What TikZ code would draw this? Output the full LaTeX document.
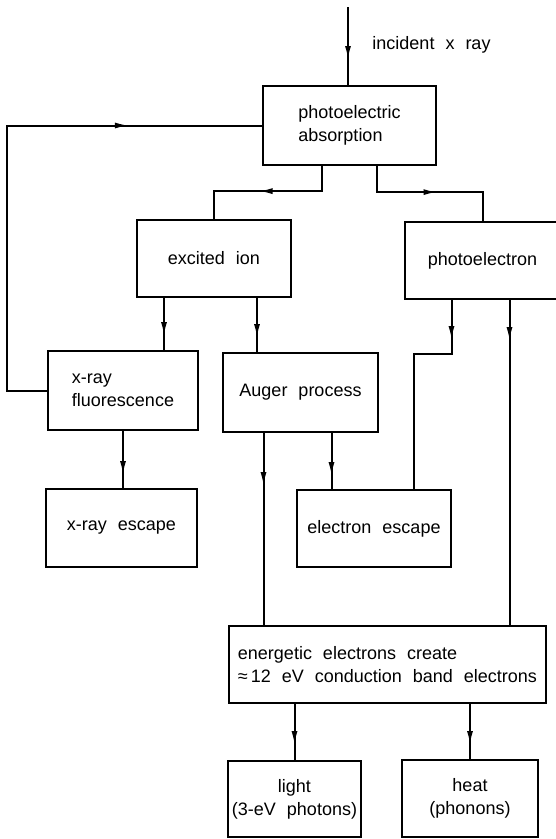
\documentclass[tikz,border=0pt]{standalone}
\usepackage{fontspec}
\setmainfont{Liberation Sans}[WordSpace=2.2]
\usetikzlibrary{arrows.meta,decorations.markings}

\begin{document}
\begin{tikzpicture}[
box/.style={rectangle, draw=black, line width=2.2pt, inner sep=0pt, font=\fontsize{18}{23}\selectfont},
flow/.style={line width=2pt, color=black},
midarrow/.style={postaction={decorate}, decoration={markings, mark=at position #1 with {\arrow{Latex[length=14pt,width=6pt]}}}}
]
\useasboundingbox (0pt,0pt) rectangle (556pt,-839pt);
\node (absorp) [box, minimum width=173pt, minimum height=79pt, align=left] at (349.5pt, -125.5pt) {photoelectric\\absorption};
\node (ion) [box, minimum width=154pt, minimum height=77pt] at (214pt, -258.5pt) {excited ion};
\node (photoel) [box, minimum width=155pt, minimum height=77pt] at (482.5pt, -260.5pt) {photoelectron};
\node (fluor) [box, minimum width=150pt, minimum height=79pt, align=left] at (123pt, -390.5pt) {x-ray\\fluorescence};
\node (auger) [box, minimum width=155pt, minimum height=79pt] at (300.5pt, -392.5pt) {Auger process};
\node (xesc) [box, minimum width=151pt, minimum height=78pt] at (121.5pt, -528pt) {x-ray escape};
\node (eesc) [box, minimum width=154pt, minimum height=77pt] at (374pt, -528.5pt) {electron escape};
\node (energ) [box, minimum width=317pt, minimum height=77pt, align=left] at (387.5pt, -664.5pt) {energetic electrons create\\≈\hspace{3pt}12 eV conduction band electrons};
\node (light) [box, minimum width=133pt, minimum height=76pt, align=center] at (294.5pt, -799pt) {light\\(3-eV photons)};
\node (heat) [box, minimum width=136pt, minimum height=77pt, align=center] at (470pt, -798.5pt) {heat\\(phonons)};
\node (inclabel) [font=\fontsize{18}{23}\selectfont] at (431.5pt, -45pt) {incident x ray};
\coordinate (xin) at (348pt, -7pt);
\coordinate (ionL) at ([xshift=-50pt]ion.south);
\coordinate (ionR) at ([xshift=43pt]ion.south);
\coordinate (augerL) at ([xshift=-37pt]auger.south);
\coordinate (augerR) at ([xshift=31pt]auger.south);
\coordinate (photoelL) at ([xshift=-31pt]photoel.south);
\coordinate (photoelR) at ([xshift=27pt]photoel.south);
\draw [flow, midarrow=53pt] (xin) -- (xin |- absorp.north);
\draw [flow, midarrow=88pt] ([xshift=-28pt]absorp.south) -- ++(0pt,-25pt) -| (ion.north);
\draw [flow, midarrow=87pt] ([xshift=27pt]absorp.south) -- ++(0pt,-26pt) -| (photoel.north);
\draw [flow, midarrow=427pt] (fluor.west) -- ++(-40pt,0pt) |- (absorp.west);
\draw [flow, midarrow=38pt] (ionL) -- (ionL |- fluor.north);
\draw [flow, midarrow=40pt] (ionR) -- (ionR |- auger.north);
\draw [flow, midarrow=44pt] (fluor.south) -- (fluor.south |- xesc.north);
\draw [flow, midarrow=53pt] (augerL) -- (augerL |- energ.north);
\draw [flow, midarrow=43pt] (augerR) -- (augerR |- eesc.north);
\draw [flow, midarrow=40pt] (photoelL) -- ++(0pt,-54pt) -| ([xshift=40pt]eesc.north);
\draw [flow, midarrow=41pt] (photoelR) -- (photoelR |- energ.north);
\draw [flow, midarrow=41pt] (energ.south -| light.north) -- (light.north);
\draw [flow, midarrow=41pt] (energ.south -| heat.north) -- (heat.north);
\end{tikzpicture}
\end{document}
